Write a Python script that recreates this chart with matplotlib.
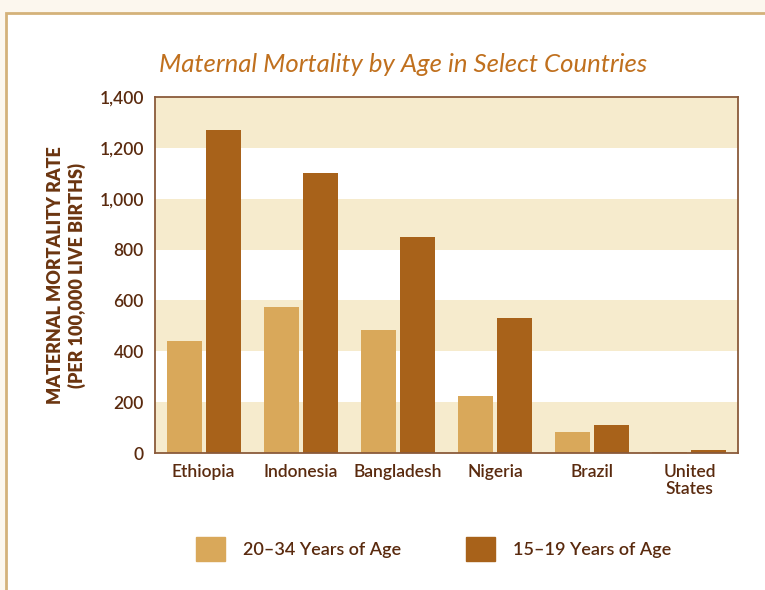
import matplotlib.pyplot as plt
import matplotlib.patches as mpatches
import numpy as np

countries = ["Ethiopia", "Indonesia", "Bangladesh", "Nigeria", "Brazil", "United\nStates"]
age_20_34 = [440, 575, 485, 225, 83, 2]
age_15_19 = [1270, 1100, 850, 530, 110, 12]
series_labels = ["20\u201334 Years of Age", "15\u201319 Years of Age"]
yticks = [0, 200, 400, 600, 800, 1000, 1200, 1400]

light = "#D9A85A"
dark = "#A8621A"
band = "#F6EBCD"
text_col = "#5A2A0E"
spine_col = "#8A5A3A"

plt.rcParams['font.family'] = ['Lato', 'DejaVu Sans']

fig = plt.figure(figsize=(7.65, 5.9), dpi=100)
fig.patch.set_facecolor("#FCF7EE")
# inner white panel with gold border
frame = mpatches.Rectangle((6 / 765, -0.05), 1.0, 1.05 - 13 / 590, transform=fig.transFigure,
                           facecolor="white", edgecolor="#D4B27A", linewidth=2, zorder=-5)
fig.patches.append(frame)

ax = fig.add_axes([155 / 765, 1 - 453 / 590, 583 / 765, 356 / 590])
ax.set_zorder(2)
ax.set_facecolor("white")
ax.set_xlim(-0.5, 5.5)
ax.set_ylim(0, 1400)

for lo in range(0, 1400, 400):
    ax.axhspan(lo, lo + 200, color=band, zorder=0, lw=0)
ax.axhspan(1200, 1400, color=band, zorder=0, lw=0)

x = np.arange(len(countries))
w = 0.36
ax.bar(x - 0.2, age_20_34, width=w, color=light, zorder=2)
ax.bar(x + 0.2, age_15_19, width=w, color=dark, zorder=2)

for s in ax.spines.values():
    s.set_color(spine_col)
    s.set_linewidth(1.3)

ax.set_yticks(yticks)
ax.set_yticklabels([f"{v:,}" for v in yticks], fontsize=12.5, color=text_col, fontweight="semibold")
ax.set_xticks(x)
ax.set_xticklabels(countries, fontsize=12.5, color=text_col, fontweight="semibold", linespacing=1.1)
ax.tick_params(length=0, pad=8)

ax.set_ylabel("MATERNAL MORTALITY RATE\n(PER 100,000 LIVE BIRTHS)", fontsize=13,
              fontweight="heavy", color="#6B3510", linespacing=1.25, labelpad=10)

fig.text(403 / 765, 1 - 65 / 590, "Maternal Mortality by Age in Select Countries",
         ha="center", va="center", fontsize=18.5, style="italic", color="#C0701E")

handles = [mpatches.Patch(color=light), mpatches.Patch(color=dark)]
fig.legend(handles, series_labels, loc="center", bbox_to_anchor=(434 / 765, 1 - 549 / 590),
           ncol=2, frameon=False, handlelength=1.6, handleheight=1.6,
           columnspacing=3.6, handletextpad=1.0, labelcolor=text_col,
           prop={"weight": "semibold", "size": 13})

fig.savefig("out.png", dpi=100, facecolor=fig.get_facecolor())
